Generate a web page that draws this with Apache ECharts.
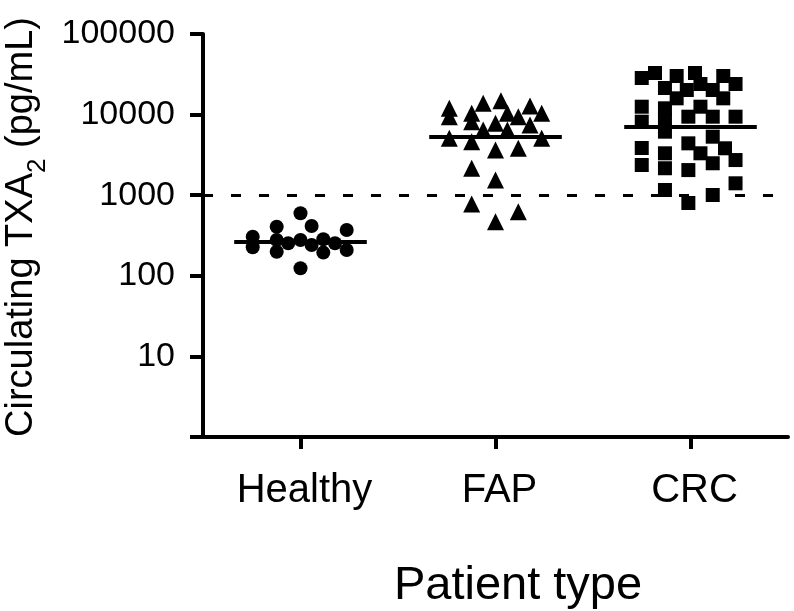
<!DOCTYPE html>
<html>
<head>
<meta charset="utf-8">
<script src="https://cdn.jsdelivr.net/npm/echarts@6/dist/echarts.min.js"></script>
<style>html,body{margin:0;padding:0;background:#fff;}#chart{width:794px;height:611px;}</style>
</head>
<body>
<div id="chart"></div>
<script>
// Categories and tick labels
const categories = ['Healthy', 'FAP', 'CRC'];
const yTickValues = [1, 10, 100, 1000, 10000, 100000];
const threshold = 1000;
const medians = [262, 5270, 7020];

// Each point: [horizontal jitter offset from category centre, TXA2 value pg/mL]
const healthyPoints = [
  [-0.245, 306], [-0.245, 226], [-0.122, 406], [-0.122, 278], [-0.122, 199],
  [-0.063, 253], [0, 596], [0, 278], [0, 124], [0.057, 415], [0.057, 241],
  [0.117, 284], [0.117, 194], [0.177, 253], [0.237, 370], [0.237, 209]
];
const fapPoints = [
  [-0.237, 11970], [-0.237, 9420], [-0.237, 5080],
  [-0.122, 10380], [-0.122, 8170], [-0.122, 4610], [-0.122, 2160], [-0.122, 778],
  [-0.063, 13800], [-0.063, 6440],
  [0, 7800], [0, 3640], [0, 1545], [0, 469],
  [0.028, 14860],
  [0.061, 10380], [0.061, 6440],
  [0.117, 9420], [0.117, 3820], [0.117, 624],
  [0.177, 12790], [0.177, 7430],
  [0.237, 10380], [0.237, 5080]
];
const crcPoints = [
  [-0.250, 28450], [-0.182, 32800], [-0.131, 21380], [-0.071, 30130], [0.023, 32800],
  [0.051, 23970], [0.114, 20200], [0.168, 30130], [0.231, 23970],
  [-0.250, 12530], [-0.250, 8170], [-0.250, 3850], [-0.250, 2370],
  [-0.131, 11970], [-0.131, 8570], [-0.131, 6140], [-0.131, 3310], [-0.131, 2160], [-0.131, 1160],
  [-0.071, 15920], [-0.019, 20200],
  [-0.011, 9420], [-0.011, 4400], [-0.011, 2050], [-0.011, 800],
  [0.051, 12530], [0.051, 3310],
  [0.114, 9420], [0.114, 5320], [0.114, 2490], [0.114, 1005],
  [0.168, 15920], [0.177, 3820],
  [0.231, 9420], [0.231, 2730], [0.231, 1405]
];

const groups = [healthyPoints, fapPoints, crcPoints];
const symbols = ['circle', 'triangle', 'rect'];
const symbolSizes = [14, 17, 14];
const halfWidth = 0.34;

const series = [];
groups.forEach((pts, i) => {
  series.push({
    name: categories[i],
    type: 'scatter',
    symbol: symbols[i],
    symbolSize: symbolSizes[i],
    itemStyle: { color: '#000', opacity: 1 },
    data: pts.map(p => [i + 1 + p[0], p[1]]),
    z: 3
  });
});
medians.forEach((m, i) => {
  series.push({
    type: 'line',
    symbol: 'none',
    lineStyle: { color: '#000', width: 4 },
    data: [[i + 1 - halfWidth, m], [i + 1 + halfWidth, m]],
    z: 4
  });
});
series[0].markLine = {
  silent: true,
  symbol: 'none',
  label: { show: false },
  lineStyle: { color: '#000', width: 3, type: [10, 18] },
  data: [{ yAxis: threshold }]
};

const chart = echarts.init(document.getElementById('chart'), null, { renderer: 'canvas' });
chart.setOption({
  animation: false,
  backgroundColor: '#fff',
  textStyle: { fontFamily: 'Liberation Sans, Arial, sans-serif', color: '#000' },
  grid: { left: 203, right: 6, top: 34, bottom: 174, containLabel: false, outerBoundsMode: 'none' },
  xAxis: {
    type: 'value',
    min: 0.5,
    max: 3.5,
    name: 'Patient type',
    nameLocation: 'middle',
    nameGap: 126,
    nameTextStyle: { fontSize: 47, color: '#000', padding: [0, 0, 0, 45], fontFamily: 'Liberation Sans' },
    axisLine: { show: true, onZero: false, lineStyle: { color: '#000', width: 4, cap: 'round' } },
    axisTick: { show: true, customValues: [1, 2, 3], length: 12, lineStyle: { color: '#000', width: 4 } },
    axisLabel: {
      customValues: [1, 2, 3],
      formatter: v => categories[Math.round(v) - 1] || '',
      fontSize: 40, color: '#000', margin: 34, padding: [0, 0, 0, 8], fontFamily: 'Liberation Sans'
    },
    splitLine: { show: false }
  },
  yAxis: {
    type: 'log',
    logBase: 10,
    min: yTickValues[0],
    max: yTickValues[yTickValues.length - 1],
    name: 'Circulating TXA{sub|2} (pg/mL)',
    nameLocation: 'middle',
    nameRotate: 90,
    nameGap: 162,
    nameTextStyle: {
      fontSize: 38, color: '#000', fontFamily: 'Liberation Sans', padding: [0, 0, 0, 17],
      rich: { sub: { fontSize: 26, verticalAlign: 'bottom', padding: [0, 0, -10, 0], fontFamily: 'Liberation Sans' } }
    },
    axisLine: { show: true, lineStyle: { color: '#000', width: 4, cap: 'round' } },
    axisTick: { show: true, length: 13, lineStyle: { color: '#000', width: 4 } },
    axisLabel: {
      formatter: v => (v === 1 ? '' : String(v)),
      fontSize: 34, color: '#000', margin: 28, fontFamily: 'Liberation Sans'
    },
    splitLine: { show: false },
    minorTick: { show: false }
  },
  series: series
});
</script>
</body>
</html>
